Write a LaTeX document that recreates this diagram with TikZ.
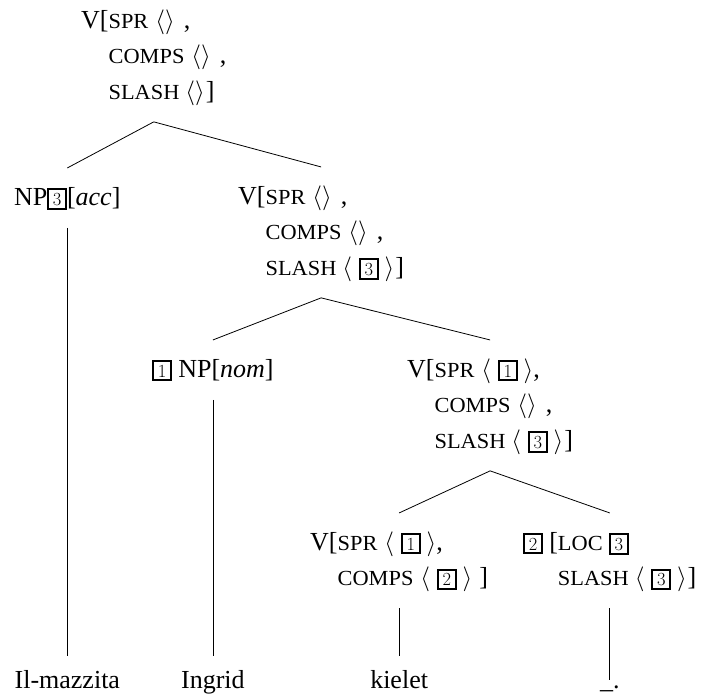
\documentclass[tikz,border=0pt]{standalone}
\usepackage{fontspec}
\setmainfont{Liberation Serif}
\newfontfamily\scfont[FakeStretch=1.04]{Liberation Serif}
\newcommand{\sct}[1]{{\scfont\fontsize{21.5}{21.5}\selectfont #1}}
\newcommand{\myl}{{\fontsize{25}{25}\selectfont$\langle$}}
\newcommand{\myr}{{\fontsize{25}{25}\selectfont$\rangle$}}
\newcommand{\tbox}[1]{{\setlength{\fboxsep}{2.3pt}\setlength{\fboxrule}{2pt}\fbox{\fontsize{18.5}{18.5}\usefont{TU}{lmr}{m}{n}\makebox[11pt]{#1}}}}
\newcommand{\ind}{\phantom{V[}}
\newcommand{\mainsz}{\fontsize{26}{35.5}\selectfont}
\tikzset{
  tn/.style={inner xsep=0pt, inner ysep=12pt, anchor=base west, font=\mainsz},
  word/.style={inner xsep=0pt, inner ysep=14pt, anchor=base, font=\mainsz},
  br/.style={line width=0.8pt, black}
}
\begin{document}
\begin{tikzpicture}[x=1pt,y=-1pt]
\useasboundingbox (0,0) rectangle (702,697);
\coordinate (wy) at (0,688);

\node[tn] (root) at (81,28) {\begin{tabular}[t]{@{}l@{}}
V[\sct{SPR}\hspace{7pt}\myl\myr\hspace{9pt},\\
\ind\sct{COMPS}\hspace{7pt}\myl\myr\hspace{9pt},\\
\ind\sct{SLASH}\hspace{6pt}\myl\myr\hspace{1pt}]
\end{tabular}};

\node[tn] (np3) at (14,205) {\begin{tabular}[t]{@{}l@{}}
NP\tbox{3}[\textit{acc}]
\end{tabular}};

\node[tn] (v2) at (238,204) {\begin{tabular}[t]{@{}l@{}}
V[\sct{SPR}\hspace{7pt}\myl\myr\hspace{9pt},\\
\ind\sct{COMPS}\hspace{7pt}\myl\myr\hspace{9pt},\\
\ind\sct{SLASH}\hspace{6pt}\myl\hspace{7pt}\tbox{3}\hspace{6pt}\myr\hspace{1pt}]
\end{tabular}};

\node[tn] (npnom) at (152,377) {\begin{tabular}[t]{@{}l@{}}
\tbox{1} NP[\textit{nom}]
\end{tabular}};

\node[tn] (v3) at (407,377) {\begin{tabular}[t]{@{}l@{}}
V[\sct{SPR}\hspace{7pt}\myl\hspace{7pt}\tbox{1}\hspace{6pt}\myr,\\
\ind\sct{COMPS}\hspace{7pt}\myl\myr\hspace{9pt},\\
\ind\sct{SLASH}\hspace{6pt}\myl\hspace{7pt}\tbox{3}\hspace{6pt}\myr\hspace{1pt}]
\end{tabular}};

\node[tn] (v4) at (310,550) {\begin{tabular}[t]{@{}l@{}}
V[\sct{SPR}\hspace{7pt}\myl\hspace{7pt}\tbox{1}\hspace{6pt}\myr,\\
\ind\sct{COMPS}\hspace{7pt}\myl\hspace{7pt}\tbox{2}\hspace{6pt}\myr\hspace{7pt}]
\end{tabular}};

\node[tn] (loc) at (523,550) {\begin{tabular}[t]{@{}l@{}}
\tbox{2} [\sct{LOC} \tbox{3}\\
\phantom{\tbox{2} [}\sct{SLASH}\hspace{6pt}\myl\hspace{7pt}\tbox{3}\hspace{6pt}\myr\hspace{1pt}]
\end{tabular}};

\node[word] (w1) at (np3.south |- wy) {Il-mazzita};
\node[word] (w2) at (npnom.south |- wy) {Ingrid};
\node[word] (w3) at (v4.south |- wy) {kielet};
\node[word, inner ysep=5pt] (w4) at (loc.south |- wy) {\_.};

\draw[br] (root.south) -- (np3.north);
\draw[br] (root.south) -- (v2.north);
\draw[br] (v2.south) -- (npnom.north);
\draw[br] (v2.south) -- (v3.north);
\draw[br] (v3.south) -- (v4.north);
\draw[br] (v3.south) -- (loc.north);
\draw[br] (np3.south) -- (w1.north);
\draw[br] (npnom.south) -- (w2.north);
\draw[br] (v4.south) -- (w3.north);
\draw[br] (loc.south) -- (w4.north);
\end{tikzpicture}
\end{document}
